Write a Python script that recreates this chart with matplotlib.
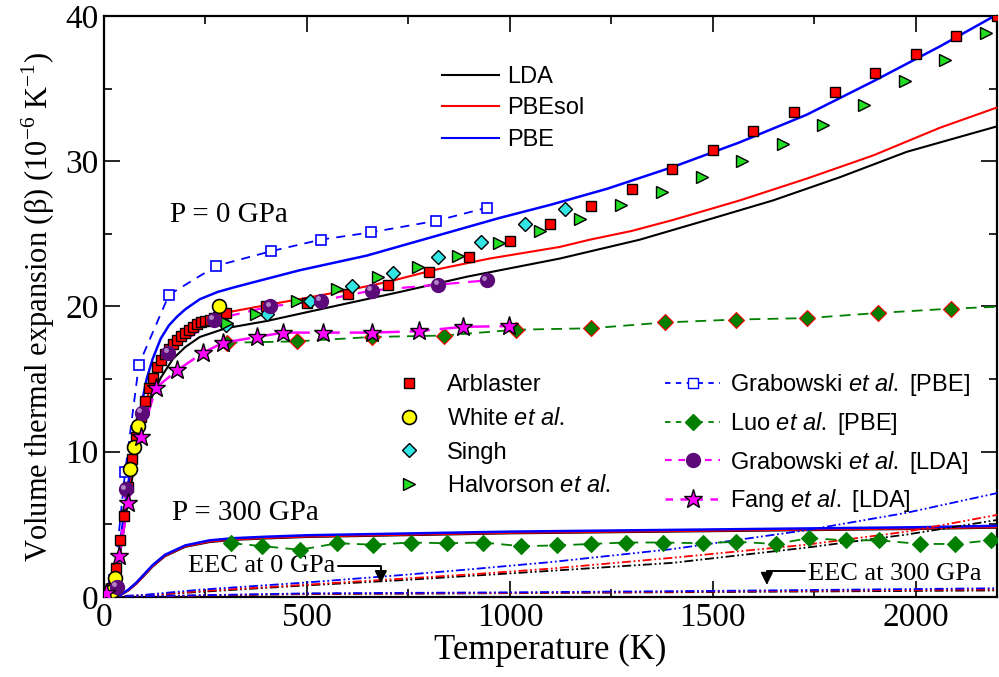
import matplotlib
matplotlib.use("Agg")
import matplotlib.pyplot as plt
from matplotlib.lines import Line2D
from matplotlib.ticker import MultipleLocator
from matplotlib.transforms import offset_copy

plt.rcParams["font.family"] = "Liberation Serif"
plt.rcParams["mathtext.fontset"] = "custom"
plt.rcParams["mathtext.rm"] = "Liberation Serif"
plt.rcParams["mathtext.it"] = "Liberation Sans:italic"

# ---- calculated curves, P = 0 GPa ----
pbe_T = [5, 15, 25, 35, 45, 55, 65, 75, 90, 105, 120, 140, 160, 180, 200, 236, 280, 318,
         400, 483, 647, 811, 975, 1100, 1239, 1401, 1566, 1731, 1895, 2059, 2200]
pbe_b = [0.0, 0.1, 0.9, 2.6, 4.8, 6.9, 8.8, 10.5, 12.9, 15.0, 16.4, 17.8, 18.7, 19.3, 19.8,
         20.5, 21.0, 21.3, 21.9, 22.5, 23.5, 24.8, 26.1, 27.0, 28.1, 29.6, 31.3, 33.2, 35.5,
         37.9, 40.1]
pbesol_T = [5, 15, 25, 35, 45, 55, 65, 75, 90, 105, 120, 140, 160, 190, 224, 260, 305, 401,
            500, 598, 700, 811, 950, 1123, 1197, 1300, 1401, 1566, 1731, 1895, 2059, 2200]
pbesol_b = [0.0, 0.1, 0.8, 2.4, 4.4, 6.4, 8.2, 9.8, 11.9, 13.6, 14.9, 16.1, 17.0, 17.9, 18.7,
            19.2, 19.6, 20.1, 20.6, 21.1, 21.7, 22.5, 23.3, 24.1, 24.6, 25.2, 25.95, 27.3,
            28.8, 30.4, 32.3, 33.7]
lda_T = [5, 15, 25, 35, 45, 55, 65, 75, 90, 105, 120, 140, 170, 200, 236, 300, 401, 564,
         729, 894, 1123, 1320, 1485, 1648, 1813, 1978, 2200]
lda_b = [0.0, 0.1, 0.7, 2.1, 3.9, 5.8, 7.5, 9.0, 11.0, 12.6, 13.9, 15.1, 16.4, 17.2, 17.9,
         18.5, 19.0, 20.0, 21.0, 22.05, 23.3, 24.6, 25.95, 27.3, 28.9, 30.65, 32.4]

# ---- calculated curves, P = 300 GPa ----
p300_T = [0, 20, 40, 60, 80, 100, 120, 150, 200, 260, 320, 400, 500, 700, 1000, 1500, 2000, 2200]
p300_pbe = [0, 0.02, 0.15, 0.5, 1.0, 1.6, 2.2, 2.9, 3.55, 3.9, 4.05, 4.15, 4.25, 4.35, 4.5,
            4.65, 4.8, 4.9]
p300_pbesol = [0, 0.02, 0.14, 0.47, 0.95, 1.55, 2.15, 2.85, 3.5, 3.83, 3.98, 4.08, 4.18,
               4.28, 4.43, 4.58, 4.73, 4.82]
p300_lda = [0, 0.02, 0.13, 0.45, 0.92, 1.5, 2.1, 2.8, 3.45, 3.78, 3.93, 4.03, 4.13, 4.23,
            4.38, 4.53, 4.68, 4.77]

# ---- electronic contribution (EEC) ----
eec0_T = [0, 100, 236, 500, 729, 900, 1100, 1401, 1731, 1978, 2200]
eec0_pbe = [0, 0.15, 0.5, 1.0, 1.5, 1.9, 2.4, 3.3, 4.6, 5.8, 7.15]
eec0_pbesol = [0, 0.1, 0.4, 0.85, 1.25, 1.55, 1.95, 2.7, 3.6, 4.5, 5.65]
eec0_lda = [0, 0.1, 0.35, 0.8, 1.15, 1.45, 1.8, 2.35, 3.4, 4.3, 5.3]
eec300_T = [0, 500, 1000, 1500, 2200]
eec300_pbe = [0, 0.25, 0.32, 0.42, 0.6]
eec300_pbesol = [0, 0.22, 0.28, 0.38, 0.52]
eec300_lda = [0, 0.2, 0.26, 0.34, 0.45]

# ---- experiments ----
arb_T = [20, 30, 40, 50, 60, 70, 80, 90, 100, 110, 120, 130, 140, 150, 160, 170, 180, 190,
         200, 210, 220, 230, 240, 250, 260, 270, 280, 290, 300, 400, 500, 600, 700, 800, 900,
         1000, 1100, 1200, 1300, 1400, 1500, 1600, 1700, 1800, 1900, 2000, 2100, 2200]
arb_b = [0.6, 2.0, 3.9, 5.6, 7.6, 9.5, 11.0, 12.4, 13.5, 14.4, 15.1, 15.8, 16.3, 16.7, 17.1,
         17.4, 17.7, 18.0, 18.2, 18.4, 18.6, 18.8, 18.9, 19.0, 19.1, 19.2, 19.3, 19.45, 19.55,
         20.0, 20.25, 20.85, 21.5, 22.4, 23.4, 24.5, 25.7, 26.9, 28.1, 29.45, 30.75, 32.1,
         33.4, 34.75, 36.05, 37.4, 38.6, 40.0]
white_T = [20, 27, 65, 73, 83, 283]
white_b = [0.4, 1.3, 8.8, 10.3, 11.8, 20.0]
singh_T = [300, 401, 507, 610, 711, 823, 928, 1037, 1135]
singh_b = [18.7, 19.5, 20.4, 21.4, 22.3, 23.4, 24.45, 25.7, 26.7]
halv_T = [302, 374, 475, 573, 675, 774, 872, 973, 1074, 1172, 1273, 1374, 1473, 1573, 1673,
          1771, 1872, 1973, 2071, 2172]
halv_b = [18.85, 19.5, 20.4, 21.2, 22.0, 22.7, 23.5, 24.35, 25.2, 26.0, 27.0, 27.9, 28.9,
          30.0, 31.2, 32.5, 33.9, 35.5, 37.0, 38.8]

# ---- other calculations ----
grabpbe_T = [25, 52, 86, 160, 277, 411, 534, 657, 819, 943]
grabpbe_b = [1.2, 8.6, 16.0, 20.8, 22.8, 23.8, 24.6, 25.1, 25.9, 26.8]
luo0_T = [302, 476, 660, 837, 1015, 1200, 1382, 1556, 1733, 1906, 2086, 2265]
luo0_b = [17.5, 17.6, 17.9, 18.0, 18.4, 18.5, 18.9, 19.1, 19.2, 19.55, 19.85, 20.05]
luo300_T = [314, 390, 483, 575, 663, 756, 845, 934, 1027, 1116, 1199, 1286, 1376, 1476,
            1558, 1655, 1737, 1829, 1909, 2010, 2096, 2184]
luo300_b = [3.7, 3.5, 3.25, 3.7, 3.6, 3.75, 3.7, 3.75, 3.5, 3.55, 3.65, 3.75, 3.75, 3.7,
            3.8, 3.65, 4.05, 3.9, 3.9, 3.65, 3.65, 3.9]
grablda_T = [32, 54, 93, 158, 271, 409, 534, 660, 823, 943]
grablda_b = [0.7, 7.4, 12.7, 16.8, 19.1, 20.0, 20.4, 21.1, 21.5, 21.8]
fang_T = [5, 37, 60, 91, 128, 180, 243, 293, 377, 441, 540, 660, 776, 885, 998]
fang_b = [0.3, 2.8, 6.5, 11.0, 14.4, 15.6, 16.8, 17.5, 17.9, 18.2, 18.2, 18.2, 18.3, 18.6, 18.65]

fig = plt.figure(figsize=(9.99, 6.77), dpi=100)
ax = fig.add_axes([0.1041, 0.1182, 0.8939, 0.8582])

green = "#007f00"
mag = "#ff00ff"
purple = "#5c0a7a"
eec_ls = (0, (5, 1.5, 1, 1.5, 1, 1.5))

# calculated curves
ax.plot(lda_T, lda_b, color="k", lw=1.5, zorder=3)
ax.plot(pbesol_T, pbesol_b, color="r", lw=1.5, zorder=3)
ax.plot(pbe_T, pbe_b, color="b", lw=1.8, zorder=3)
ax.plot(p300_T, p300_lda, color="k", lw=1.5, zorder=3)
ax.plot(p300_T, p300_pbesol, color="r", lw=1.8, zorder=3)
ax.plot(p300_T, p300_pbe, color="b", lw=1.8, zorder=3)
for T, b, c in [(eec0_T, eec0_lda, "k"), (eec0_T, eec0_pbesol, "r"), (eec0_T, eec0_pbe, "b"),
                (eec300_T, eec300_lda, "k"), (eec300_T, eec300_pbesol, "r"),
                (eec300_T, eec300_pbe, "b")]:
    ax.plot(T, b, color=c, lw=1.3, ls=eec_ls, zorder=3)

# other calculations
ax.plot(grabpbe_T, grabpbe_b, color="b", lw=1.3, dashes=(5, 4), marker="s", ms=7,
        mfc="white", mec="b", mew=1.2, zorder=4)
ax.plot(luo0_T, luo0_b, color=green, lw=1.3, dashes=(6, 4), marker="D", ms=8,
        mfc=green, mec="r", mew=0.8, zorder=4)
ax.plot(luo300_T, luo300_b, color=green, lw=1.3, dashes=(6, 4), marker="D", ms=8,
        mfc=green, mec=green, mew=0.8, zorder=4)
ax.plot(grablda_T, grablda_b, color=mag, lw=1.6, dashes=(6, 4), zorder=4)
ax.plot(grablda_T, grablda_b, ls="none", marker="o", ms=10, mfc=purple, mec=purple, zorder=6)
hl = offset_copy(ax.transData, fig=fig, x=-2.5, y=2.5, units="dots")
ax.plot(grablda_T, grablda_b, ls="none", marker="o", ms=3.5, mfc="#c9a3d9", mec="none",
        alpha=0.8, transform=hl, zorder=6)
ax.plot(fang_T, fang_b, color=mag, lw=1.8, dashes=(8, 4), zorder=4)
ax.plot(fang_T, fang_b, ls="none", marker="*", ms=14, mfc=mag, mec="k", mew=1, zorder=6)

# experiments
ax.plot(arb_T, arb_b, ls="none", marker="s", ms=7, mfc="r", mec="k", mew=1, zorder=5)
ax.plot(white_T, white_b, ls="none", marker="o", ms=10, mfc="yellow", mec="k", mew=1.2,
        zorder=5)
ax.plot(singh_T, singh_b, ls="none", marker="D", ms=7.5, mfc="#33e5e5", mec="k", mew=1,
        zorder=5)
ax.plot(halv_T, halv_b, ls="none", marker=">", ms=9, mfc="#22dd22", mec="k", mew=1, zorder=5)

ax.set_xlim(0, 2200)
ax.set_ylim(0, 40)
ax.xaxis.set_major_locator(MultipleLocator(500))
ax.xaxis.set_minor_locator(MultipleLocator(250))
ax.yaxis.set_major_locator(MultipleLocator(10))
ax.yaxis.set_minor_locator(MultipleLocator(5))
ax.tick_params(which="both", direction="in", top=True, right=True, width=1.2, labelsize=24)
ax.tick_params(which="major", length=11.5, pad=4)
ax.tick_params(which="minor", length=5.8)
for sp in ax.spines.values():
    sp.set_linewidth(1.6)

ax.set_xlabel("Temperature (K)", fontsize=25, labelpad=1)
ax.set_ylabel(r"Volume thermal expansion ($\mathregular{\beta}$) "
              r"(10$^{\mathregular{-6}}$ K$^{\mathregular{-1}}$)", fontsize=22, labelpad=6)

# legends
sans = {"family": "Liberation Sans", "size": 17}
leg1 = ax.legend(handles=[Line2D([], [], color="k", lw=1.5), Line2D([], [], color="r", lw=1.5),
                          Line2D([], [], color="b", lw=1.5)],
                 labels=["LDA", "PBEsol", "PBE"], loc="upper left",
                 bbox_to_anchor=(0.3787, 0.914), frameon=False, prop=sans, handlelength=2.4,
                 handletextpad=0.35, labelspacing=0.4, borderpad=0, borderaxespad=0)
ax.add_artist(leg1)

h2 = [Line2D([], [], ls="none", marker="s", ms=7, mfc="r", mec="k"),
      Line2D([], [], ls="none", marker="o", ms=10, mfc="yellow", mec="k", mew=1.2),
      Line2D([], [], ls="none", marker="D", ms=7.5, mfc="#33e5e5", mec="k"),
      Line2D([], [], ls="none", marker=">", ms=9, mfc="#22dd22", mec="k"),
      Line2D([], [], color="b", lw=1.3, dashes=(3, 3), marker="s", ms=7, mfc="white", mec="b"),
      Line2D([], [], color=green, lw=1.3, dashes=(3, 3), marker="D", ms=8, mfc=green, mec=green),
      Line2D([], [], color=mag, lw=1.6, dashes=(3, 3), marker="o", ms=10, mfc=purple, mec=purple),
      Line2D([], [], color=mag, lw=1.8, dashes=(3, 3), marker="*", ms=14, mfc=mag, mec="k")]
l2 = ["Arblaster", r"White $\mathit{et\ al.}$", "Singh", r"Halvorson $\mathit{et\ al.}$",
      r"Grabowski $\mathit{et\ al.}$ [PBE]", r"Luo $\mathit{et\ al.}$ [PBE]",
      r"Grabowski $\mathit{et\ al.}$ [LDA]", r"Fang $\mathit{et\ al.}$ [LDA]"]
ax.legend(handles=h2, labels=l2, ncol=2, loc="upper left", bbox_to_anchor=(0.311, 0.389),
          frameon=False, prop=sans, handlelength=2.35, handletextpad=0.4, labelspacing=0.5,
          columnspacing=2.3, borderpad=0, borderaxespad=0)

# annotations
ax.text(163, 26.3, "P = 0 GPa", fontsize=21, ha="left", va="center")
ax.text(167, 5.8, "P = 300 GPa", fontsize=21, ha="left", va="center")
arrow = dict(arrowstyle="-|>", color="k", lw=1.4, mutation_scale=18, shrinkA=0, shrinkB=0)
ax.annotate("EEC at 0 GPa", xy=(682, 0.95), xytext=(207, 2.1), fontsize=19, ha="left",
            va="center", arrowprops=dict(arrow, relpos=(1, 0.5),
                                         connectionstyle="angle,angleA=0,angleB=90,rad=0"))
ax.annotate("EEC at 300 GPa", xy=(1633, 0.83), xytext=(1734, 1.6), fontsize=19, ha="left",
            va="center", arrowprops=dict(arrow, relpos=(0, 0.62),
                                         connectionstyle="angle,angleA=0,angleB=90,rad=0"))

fig.savefig("out.png", dpi=100)
